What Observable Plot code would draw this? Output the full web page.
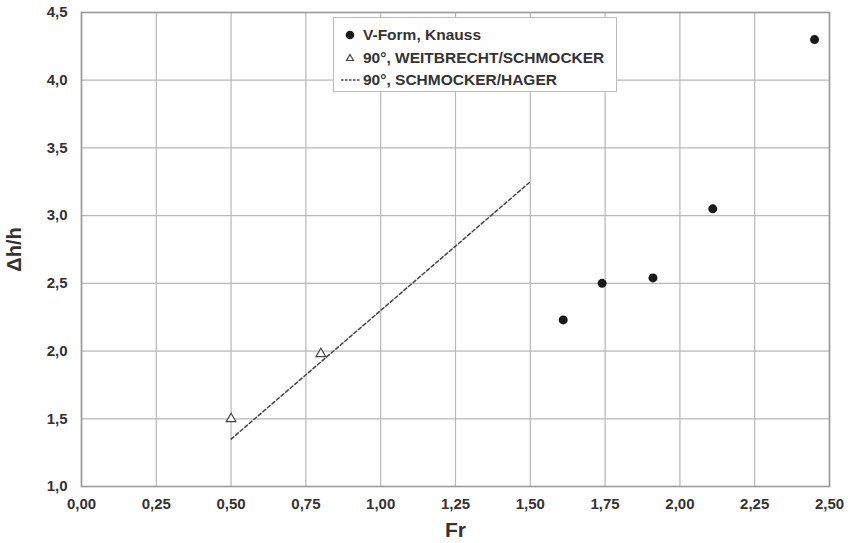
<!DOCTYPE html>
<html>
<head>
<meta charset="utf-8">
<script src="https://cdn.jsdelivr.net/npm/d3@7"></script>
<script src="https://cdn.jsdelivr.net/npm/@observablehq/plot@0.6"></script>
<style>
  body { margin: 0; background: #fff; }
  #wrap { position: relative; width: 848px; height: 543px; font-family: "Liberation Sans", Arial, sans-serif; }
  #legend { position: absolute; left: 333px; top: 17px; width: 284px; height: 75px; background: #fff; border: 1px solid #bbb; box-sizing: border-box; font-weight: bold; font-size: 15.5px; color: #333; }
  #legend .row { position: absolute; left: 5px; height: 20px; display: flex; align-items: center; white-space: nowrap; }
  #legend svg { width: 22px; height: 20px; margin-right: 2px; }
</style>
</head>
<body>
<div id="wrap"></div>
<script>
// Data
const knaussFr = [1.61, 1.74, 1.91, 2.11, 2.45];
const knaussDh = [2.23, 2.50, 2.54, 3.05, 4.30];
const weitFr = [0.50, 0.80];
const weitDh = [1.50, 1.98];
const hagerFr = [0.50, 1.50];
const hagerDh = [1.35, 3.25];
const xTicks = [0, 0.25, 0.5, 0.75, 1.0, 1.25, 1.5, 1.75, 2.0, 2.25, 2.5];
const yTicks = [1.0, 1.5, 2.0, 2.5, 3.0, 3.5, 4.0, 4.5];
const legendLabels = ["V-Form, Knauss", "90°, WEITBRECHT/SCHMOCKER", "90°, SCHMOCKER/HAGER"];

const knauss = knaussFr.map((x, i) => ({x, y: knaussDh[i]}));
const weit = weitFr.map((x, i) => ({x, y: weitDh[i]}));
const hager = hagerFr.map((x, i) => ({x, y: hagerDh[i]}));

const fmtX = d => d.toFixed(2).replace(".", ",");
const fmtY = d => d.toFixed(1).replace(".", ",");

const chart = Plot.plot({
  width: 848,
  height: 543,
  marginLeft: 81,
  marginRight: 19,
  marginTop: 12,
  marginBottom: 57,
  style: { fontFamily: "'Liberation Sans', Arial, sans-serif", fontWeight: "bold", color: "#333", background: "#fff" },
  x: { domain: [0, 2.5] },
  y: { domain: [1, 4.5] },
  marks: [
    Plot.gridX(xTicks, { stroke: "#b8b8b8", strokeOpacity: 1, strokeWidth: 1.2 }),
    Plot.gridY(yTicks, { stroke: "#b8b8b8", strokeOpacity: 1, strokeWidth: 1.2 }),
    Plot.frame({ stroke: "#999", strokeWidth: 1.6 }),
    Plot.axisX(xTicks, { tickSize: 0, tickPadding: 12, tickFormat: fmtX, fontSize: 15, fontWeight: "bold", fill: "#333", label: "Fr", labelAnchor: "center", labelOffset: 50, labelArrow: "none" }),
    Plot.axisY(yTicks, { tickSize: 0, tickPadding: 14, tickFormat: fmtY, fontSize: 15, fontWeight: "bold", fill: "#333", label: "Δh/h", labelAnchor: "center", labelOffset: 75, labelArrow: "none" }),
    Plot.line(hager, { x: "x", y: "y", stroke: "#444", strokeWidth: 1.5, strokeDasharray: "3.5,2.5" }),
    Plot.dot(weit, { x: "x", y: "y", symbol: "triangle", r: 3.6, stroke: "#444", strokeWidth: 1.2, fill: "#fff" }),
    Plot.dot(knauss, { x: "x", y: "y", r: 4.5, fill: "#1a1a1a", stroke: "none" })
  ]
});
d3.select(chart).selectAll("g[aria-label='x-axis label'] text").style("font-size", "21px");
d3.select(chart).selectAll("g[aria-label='y-axis label'] text").style("font-size", "20px");
document.getElementById("wrap").appendChild(chart);

const legend = document.createElement("div");
legend.id = "legend";
const symbols = [
  '<svg viewBox="0 0 22 20"><circle cx="11" cy="10" r="4.3" fill="#1a1a1a"/></svg>',
  '<svg viewBox="0 0 22 20"><path d="M11,6.5 L14.5,12.5 L7.5,12.5 Z" fill="#fff" stroke="#444" stroke-width="1.2"/></svg>',
  '<svg viewBox="0 0 22 20"><line x1="2" y1="10" x2="22" y2="10" stroke="#444" stroke-width="1.5" stroke-dasharray="2.5,1.5"/></svg>'
];
legendLabels.forEach((t, i) => {
  const row = document.createElement("div");
  row.className = "row";
  row.style.top = (7 + i * 22.5) + "px";
  row.innerHTML = symbols[i] + "<span>" + t + "</span>";
  legend.appendChild(row);
});
document.getElementById("wrap").appendChild(legend);
</script>
</body>
</html>
